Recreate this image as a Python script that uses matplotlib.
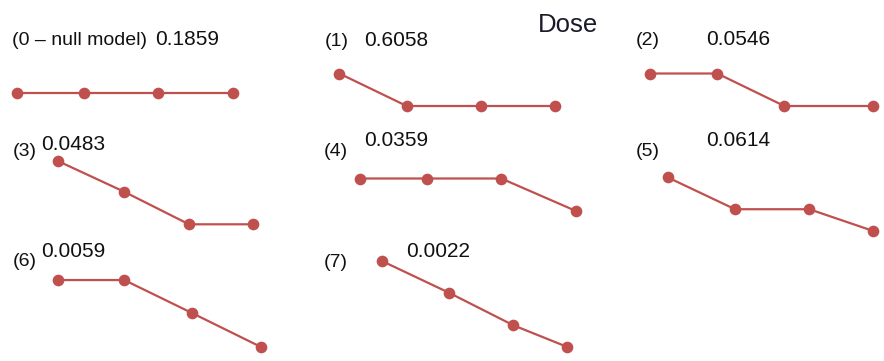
import numpy as np
import matplotlib
matplotlib.use("Agg")
import matplotlib.pyplot as plt

plt.rcParams['font.family'] = ['Liberation Sans', 'DejaVu Sans']

# Candidate dose-response shapes: label, p-value, dose positions, response levels
labels = ["(0 \u2013 null model)", "(1)", "(2)", "(3)", "(4)", "(5)", "(6)", "(7)"]
p_values = ["0.1859", "0.6058", "0.0546", "0.0483", "0.0359", "0.0614", "0.0059", "0.0022"]

dose_positions = [
    [0, 67, 141, 216],
    [0, 67.4, 141.7, 216],
    [0, 67.3, 134.3, 223.3],
    [0, 66.6, 131.3, 195.6],
    [0, 67, 141.3, 216],
    [0, 67.3, 141.6, 205.6],
    [0, 66.6, 134, 203.3],
    [0, 67.3, 131.6, 185],
]
response_levels = [
    [0, 0, 0, 0],
    [1.0, 0, 0, 0],
    [1.0, 1.0, 0, 0],
    [1.95, 1.0, 0, 0],
    [1.0, 1.0, 1.0, 0],
    [1.65, 0.67, 0.67, 0],
    [2.06, 2.06, 1.05, 0],
    [2.64, 1.66, 0.66, 0],
]

# Layout (figure pixel space): origin of each small panel, label anchors
panel_origin = [(17, 92.7), (339.3, 106), (650, 106), (57.7, 224.3),
                (360, 211), (667.7, 231), (57.7, 347), (381.7, 346.7)]
label_pos = [(12, 45), (325, 45.5), (636, 45), (12.3, 156.5),
             (323.3, 156), (636, 156), (12.3, 266), (324, 266.7)]
value_pos = [(155, 45), (364, 45.5), (706, 45), (40.7, 150),
             (364.3, 146), (706, 146), (40.7, 256.7), (406, 257.3)]
LEVEL_PX = 32.5

W, H = 884, 361
fig = plt.figure(figsize=(W / 100, H / 100), dpi=100)
ax = fig.add_axes([0, 0, 1, 1])
ax.set_xlim(0, W)
ax.set_ylim(H, 0)
ax.axis('off')

line_color = '#c0504d'
for i in range(len(labels)):
    ox, oy = panel_origin[i]
    xs = ox + np.asarray(dose_positions[i], dtype=float)
    ys = oy - np.asarray(response_levels[i], dtype=float) * LEVEL_PX
    ax.plot(xs, ys, '-', color=line_color, lw=1.6, zorder=2)
    ax.plot(xs, ys, 'o', color=line_color, ms=8.4, mec='none', zorder=3)
    lx, ly = label_pos[i]
    ax.text(lx, ly, labels[i], fontsize=14, ha='left', va='baseline', color='#111111')
    vx, vy = value_pos[i]
    ax.text(vx, vy, p_values[i], fontsize=15, ha='left', va='baseline', color='#111111')

ax.text(538, 32.3, "Dose", fontsize=18.5, ha='left', va='baseline', color='#1a1a2a')

fig.savefig("out.png", dpi=100)
